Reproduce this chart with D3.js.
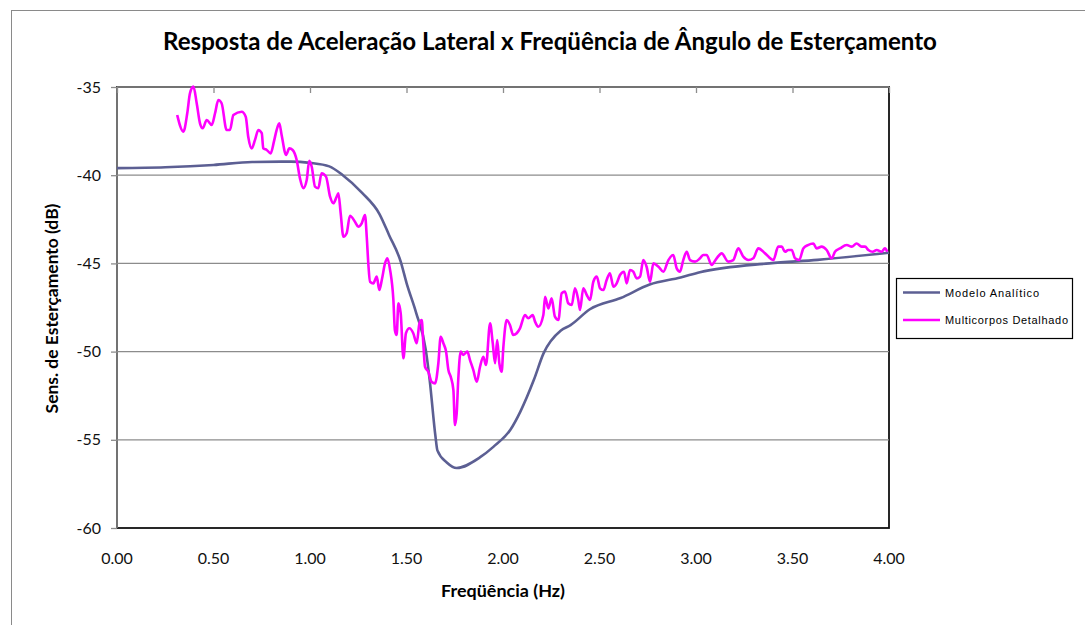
<!DOCTYPE html>
<html><head><meta charset="utf-8">
<script src="https://cdn.jsdelivr.net/npm/d3@7"></script>
<style>body{margin:0;background:#fff}</style>
</head><body>
<svg id="c" width="1085" height="625"></svg>
<script>
const titleText = "Resposta de Aceleração Lateral x Freqüência de Ângulo de Esterçamento";
const xTitle = "Freqüência (Hz)";
const yTitle = "Sens. de Esterçamento (dB)";
const seriesNames = ["Modelo Analítico", "Multicorpos Detalhado"];
const xTicks = [0, 0.5, 1, 1.5, 2, 2.5, 3, 3.5, 4];
const yTicks = [-60, -55, -50, -45, -40, -35];

const analyticF = [0,0.25,0.5,0.7,0.9,1.0,1.1,1.17,1.27,1.36,1.41,1.47,1.5,1.55,1.6,1.62,1.65,1.66,1.71,1.76,1.88,1.95,2.04,2.09,2.16,2.21,2.3,2.35,2.45,2.61,2.76,2.92,3.02,3.38,3.63,4.0];
const analyticDb = [-39.6,-39.55,-39.42,-39.25,-39.23,-39.3,-39.5,-40.0,-41.0,-42.2,-43.4,-44.9,-46.1,-47.8,-49.9,-51.6,-54.8,-55.6,-56.3,-56.6,-56.0,-55.4,-54.4,-53.4,-51.6,-50.1,-48.8,-48.5,-47.6,-46.96,-46.2,-45.8,-45.5,-45.0,-44.8,-44.4];

const multiF = [0.312,0.344,0.364,0.378,0.396,0.413,0.430,0.444,0.465,0.491,0.508,0.525,0.542,0.568,0.585,0.603,0.646,0.667,0.680,0.698,0.715,0.732,0.750,0.758,0.776,0.796,0.813,0.827,0.841,0.853,0.876,0.893,0.910,0.931,0.948,0.965,0.983,0.996,1.009,1.026,1.043,1.060,1.083,1.104,1.121,1.138,1.147,1.159,1.173,1.190,1.207,1.233,1.250,1.268,1.285,1.294,1.302,1.311,1.328,1.346,1.359,1.372,1.389,1.401,1.415,1.432,1.440,1.449,1.458,1.470,1.484,1.497,1.515,1.535,1.553,1.567,1.579,1.587,1.596,1.613,1.630,1.648,1.665,1.677,1.691,1.705,1.717,1.729,1.743,1.751,1.760,1.768,1.781,1.794,1.815,1.829,1.846,1.864,1.881,1.898,1.912,1.933,1.947,1.959,1.970,1.981,1.993,2.002,2.019,2.036,2.053,2.071,2.088,2.114,2.131,2.154,2.166,2.183,2.209,2.218,2.235,2.252,2.269,2.287,2.304,2.321,2.338,2.356,2.373,2.390,2.399,2.416,2.434,2.451,2.468,2.486,2.503,2.520,2.537,2.554,2.572,2.589,2.606,2.627,2.641,2.658,2.675,2.693,2.710,2.727,2.744,2.762,2.779,2.806,2.831,2.857,2.882,2.900,2.917,2.934,2.952,2.969,2.995,3.021,3.038,3.055,3.081,3.107,3.133,3.167,3.193,3.219,3.245,3.271,3.297,3.323,3.358,3.401,3.426,3.444,3.461,3.478,3.496,3.513,3.535,3.556,3.580,3.608,3.625,3.651,3.677,3.703,3.720,3.746,3.781,3.807,3.832,3.858,3.876,3.893,3.916,3.936,3.962,3.979,3.991];
const multiDb = [-36.59,-37.53,-36.49,-35.36,-34.98,-35.92,-37.06,-37.34,-36.87,-37.15,-36.49,-35.74,-35.92,-37.44,-37.44,-36.59,-36.40,-36.68,-37.82,-38.48,-38.0,-37.44,-37.62,-38.48,-38.57,-38.76,-38.10,-37.44,-37.06,-37.72,-38.85,-38.48,-38.57,-39.14,-40.18,-40.74,-40.27,-39.18,-39.52,-40.65,-40.74,-39.89,-40.08,-41.22,-41.59,-41.22,-41.03,-42.16,-43.49,-43.29,-42.30,-42.64,-42.92,-42.73,-42.26,-43.49,-44.99,-46.04,-46.13,-45.75,-46.51,-45.94,-44.99,-44.71,-45.37,-47.07,-48.8,-49.06,-47.26,-47.83,-50.38,-48.96,-48.68,-48.96,-49.53,-48.40,-48.21,-49.53,-50.86,-51.14,-51.71,-51.80,-50.66,-49.16,-49.53,-50.0,-51.04,-51.42,-52.18,-54.16,-53.50,-51.61,-50.0,-50.19,-50.0,-50.48,-51.04,-51.71,-50.86,-50.29,-50.76,-48.40,-49.53,-50.66,-49.34,-50.66,-51.14,-49.72,-48.21,-48.49,-49.06,-48.96,-48.68,-47.93,-48.11,-47.93,-48.30,-48.59,-47.93,-46.89,-47.55,-46.98,-48.02,-48.21,-46.69,-46.60,-47.26,-47.36,-46.41,-47.07,-47.64,-46.41,-46.79,-47.07,-46.04,-45.75,-46.41,-46.51,-45.94,-45.56,-46.32,-46.13,-45.66,-45.47,-46.13,-45.37,-45.47,-45.85,-45.75,-44.81,-45.19,-46.04,-45.0,-45.19,-45.47,-44.81,-44.52,-45.28,-45.47,-44.81,-44.34,-44.81,-44.90,-44.71,-44.52,-44.52,-45.09,-44.71,-44.43,-44.90,-44.81,-44.15,-44.62,-44.81,-44.71,-44.15,-44.43,-44.81,-44.05,-44.05,-44.34,-44.24,-44.24,-44.71,-44.81,-44.15,-43.96,-43.87,-44.15,-44.05,-44.24,-44.71,-44.34,-44.15,-43.96,-44.05,-43.87,-44.05,-44.05,-44.24,-44.34,-44.24,-44.34,-44.15,-44.34];

const colors = ["#5c5f93", "#ff00ff"];

const svg = d3.select("#c");
const L = 117, R = 889, T = 87, B = 528;
const x = d3.scaleLinear().domain([0, 4]).range([L, R]);
const y = d3.scaleLinear().domain([-60, -35]).range([B, T]);

function fit(sel, base, width) {
  const w = sel.node().getComputedTextLength();
  sel.attr("font-size", base * width / w);
}

// outer chart frame
svg.append("rect").attr("x", 11.5).attr("y", 10.5).attr("width", 1100).attr("height", 700)
  .attr("fill", "#fff").attr("stroke", "#8a8a8a").attr("stroke-width", 1);

// plot area border
svg.append("rect").attr("x", L).attr("y", T).attr("width", R - L).attr("height", B - T)
  .attr("fill", "none").attr("stroke", "#111").attr("stroke-width", 1.8);

// gridlines
svg.append("g").selectAll("line").data(yTicks.filter(d => d > -60)).join("line")
  .attr("x1", L).attr("x2", R).attr("y1", d => y(d)).attr("y2", d => y(d))
  .attr("stroke", "#8c8c8c").attr("stroke-width", 1.3);

// y axis line
svg.append("line").attr("x1", L).attr("x2", L).attr("y1", T).attr("y2", B)
  .attr("stroke", "#8c8c8c").attr("stroke-width", 1.5);

// y ticks & labels
const yAxis = d3.axisLeft(y).tickValues(yTicks).tickSize(6).tickPadding(10).tickFormat(d => String(d));
const gy = svg.append("g").attr("transform", `translate(${L},0)`).call(yAxis);
gy.select(".domain").remove();
gy.selectAll(".tick line").attr("stroke", "#8c8c8c").attr("stroke-width", 1.3);
gy.selectAll(".tick text").attr("font-family", "Lato").attr("font-size", 16).attr("fill", "#111");

// x ticks at top (inward)
const xAxis = d3.axisBottom(x).tickValues(xTicks).tickSize(6).tickFormat("");
const gxt = svg.append("g").attr("transform", `translate(0,${T})`).call(xAxis);
gxt.select(".domain").remove();
gxt.selectAll(".tick line").attr("stroke", "#8c8c8c").attr("stroke-width", 1.3);

// x labels
svg.append("g").selectAll("text").data(xTicks).join("text")
  .attr("x", d => x(d)).attr("y", 564).attr("text-anchor", "middle")
  .attr("font-family", "Lato").attr("font-size", 16).attr("fill", "#111")
  .text(d => d3.format(".2f")(d));

// lines
const line = d3.line().x(d => x(d[0])).y(d => y(d[1])).curve(d3.curveMonotoneX);
const analytic = analyticF.map((f, i) => [f, analyticDb[i]]);
const multi = multiF.map((f, i) => [f, multiDb[i]]);
svg.append("path").datum(analytic).attr("d", line).attr("fill", "none")
  .attr("stroke", colors[0]).attr("stroke-width", 2.6).attr("stroke-linejoin", "round");
svg.append("path").datum(multi).attr("d", line).attr("fill", "none")
  .attr("stroke", colors[1]).attr("stroke-width", 2.6).attr("stroke-linejoin", "round");

// title
const t = svg.append("text").attr("x", 550).attr("y", 50).attr("text-anchor", "middle")
  .attr("font-family", "Lato").attr("font-weight", "bold").attr("font-size", 22).attr("fill", "#000")
  .text(titleText);
fit(t, 22, 774);

// axis titles
const xt = svg.append("text").attr("x", (L + R) / 2).attr("y", 597).attr("text-anchor", "middle")
  .attr("font-family", "Lato").attr("font-weight", "bold").attr("font-size", 15).attr("fill", "#000")
  .text(xTitle);
fit(xt, 15, 124);
const yt = svg.append("text").attr("transform", `translate(58,${(T + B) / 2 + 1}) rotate(-90)`).attr("text-anchor", "middle")
  .attr("font-family", "Lato").attr("font-weight", "bold").attr("font-size", 15).attr("fill", "#000")
  .text(yTitle);
fit(yt, 15, 210);

// legend
const lg = svg.append("g");
lg.append("rect").attr("x", 896.5).attr("y", 278.5).attr("width", 176).attr("height", 60)
  .attr("fill", "#fff").attr("stroke", "#000").attr("stroke-width", 1.2);
const ly = [292.5, 320];
const lw = [94, 123];
seriesNames.forEach((n, i) => {
  lg.append("line").attr("x1", 903).attr("x2", 940).attr("y1", ly[i]).attr("y2", ly[i])
    .attr("stroke", colors[i]).attr("stroke-width", 2.6);
  lg.append("text").attr("x", 945).attr("y", ly[i] + 4).attr("font-family", "Liberation Sans")
    .attr("font-size", 11).attr("fill", "#000").attr("textLength", lw[i]).attr("lengthAdjust", "spacing")
    .text(n);
});
</script>
</body></html>
